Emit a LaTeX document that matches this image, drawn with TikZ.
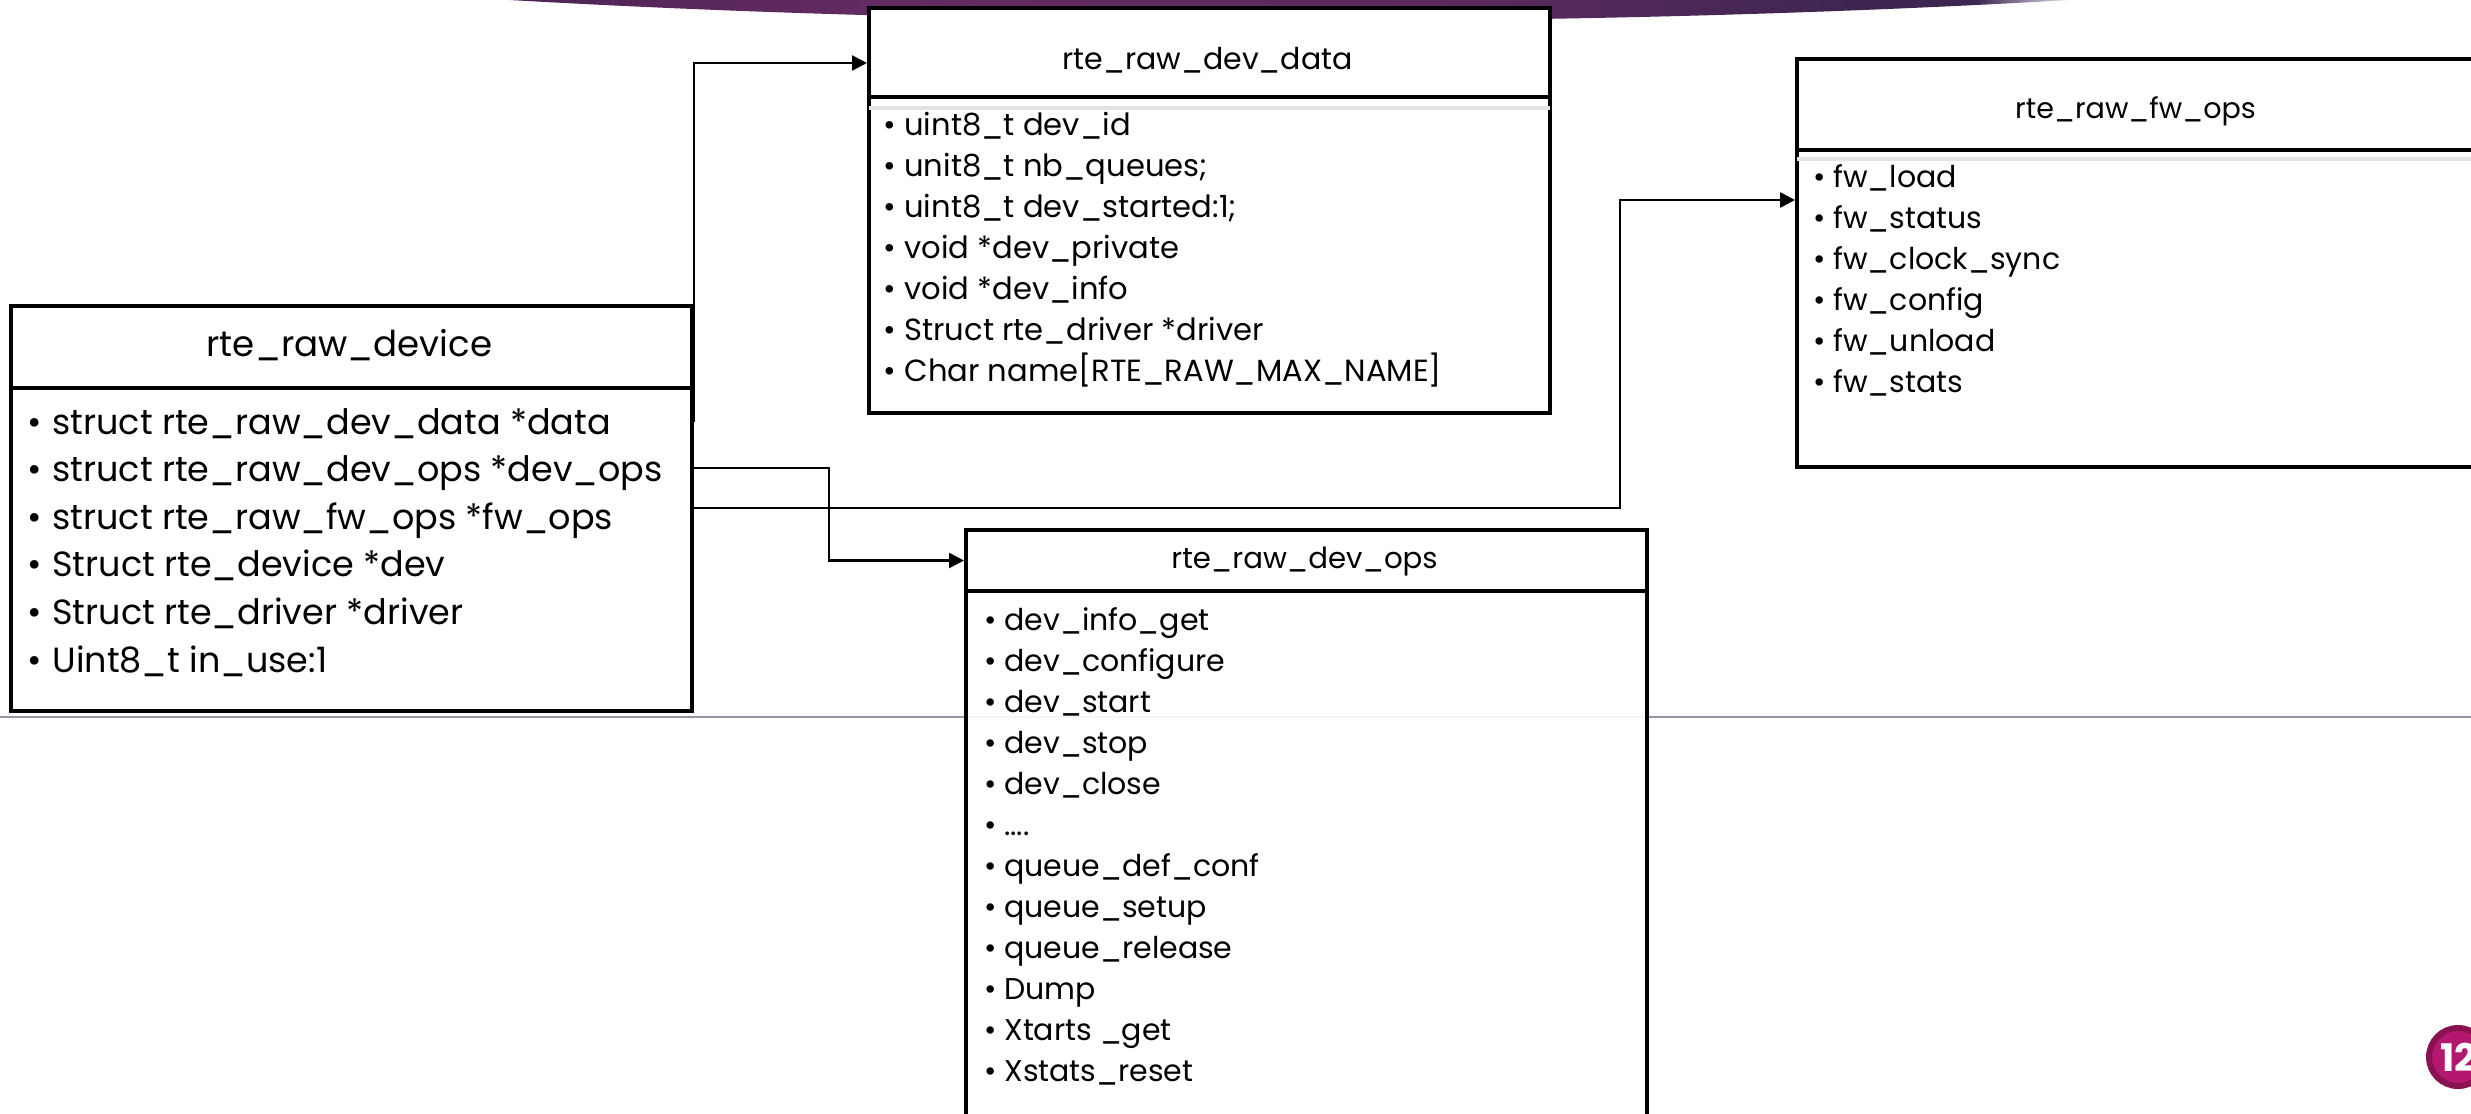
\documentclass[tikz,border=0pt]{standalone}
\usepackage{fontspec}
\setmainfont{Poppins}
\usetikzlibrary{arrows.meta}

\definecolor{bnA}{HTML}{4E2456}
\definecolor{bnB}{HTML}{642B63}
\definecolor{bnC}{HTML}{5A2A5E}
\definecolor{bnD}{HTML}{3D2551}
\definecolor{bnE}{HTML}{E4E0EA}
\definecolor{stripgrey}{HTML}{E3E3E3}
\definecolor{rulegrey}{HTML}{9C94A3}
\definecolor{pgnum}{HTML}{B3186E}
\definecolor{pgnumdark}{HTML}{8A1252}

% title band across the top edge
\pgfdeclarehorizontalshading{bannershade}{100bp}{%
  color(0bp)=(bnA); color(25bp)=(bnA); color(37bp)=(bnB); color(56bp)=(bnC);
  color(69bp)=(bnD); color(72bp)=(bnD); color(75bp)=(bnE); color(100bp)=(bnE)}

% bullet followed by the entry text
\newcommand{\itm}[2]{\makebox[#1][l]{\textbullet}#2}
\newcommand{\fourdots}{....}

\begin{document}
\begin{tikzpicture}[x=0.5pt,y=-0.5pt,
  boxpart/.style={draw=black, line width=2pt, fill=white, inner sep=0pt,
    minimum width=340.5pt, anchor=north west},
  bigttl/.style={font=\fontsize{17.8}{21}\selectfont, inner sep=0pt, anchor=base},
  ttl/.style={font=\fontsize{15}{18}\selectfont, inner sep=0pt, anchor=base},
  bigitem/.style={font=\fontsize{17.5}{21}\selectfont, inner sep=0pt, anchor=base west},
  item/.style={font=\fontsize{15}{18}\selectfont, inner sep=0pt, anchor=base west},
  conn/.style={line width=1.3pt, -{Triangle[length=7.5pt,width=7.5pt]}}]

\useasboundingbox (0,0) rectangle (2471,1113);
\clip (0,0) rectangle (2471,1113);

% background band and rule
\begin{scope}
  \clip (1290,-179) ellipse [x radius=1748, y radius=200];
  \shade[shading=bannershade] (510,-5) rectangle (2070,30);
\end{scope}
\draw[rulegrey, line width=0.8pt] (0,717) -- (2471,717);

% rte_raw_dev_data
\node[boxpart, minimum height=44.5pt] (ddhead) at (867,6) {};
\node[boxpart, minimum height=158pt] (ddbody) at (867,95) {};
\fill[stripgrey] ([shift={(2,11)}]ddbody.north west) rectangle ([shift={(-2,15)}]ddbody.north east);
\node[ttl] (ddtitle) at (1207.5,69) {rte\_raw\_dev\_data};
\foreach \txt [count=\i from 0] in {{uint8\_t dev\_id},{unit8\_t nb\_queues;},{uint8\_t dev\_started:1;},
  {void *dev\_private},{void *dev\_info},{Struct rte\_driver *driver},{Char name[RTE\_RAW\_MAX\_NAME]}}
  \node[item, font=\fontsize{15.3}{18}\selectfont] (dd\i) at (883,135+41*\i) {\itm{10.5pt}{\txt}};

% rte_raw_fw_ops
\node[boxpart, minimum height=45.5pt] (fwhead) at (1795,57) {};
\node[boxpart, minimum height=158.5pt] (fwbody) at (1795,148) {};
\fill[stripgrey] ([shift={(2,9)}]fwbody.north west) rectangle ([shift={(-2,13)}]fwbody.north east);
\node[ttl, font=\fontsize{14.3}{17}\selectfont] (fwtitle) at (2135.5,119) {rte\_raw\_fw\_ops};
\foreach \txt [count=\i from 0] in {{fw\_load},{fw\_status},{fw\_clock\_sync},{fw\_config},{fw\_unload},{fw\_stats}}
  \node[item] (fw\i) at (1813,187+41*\i) {\itm{10pt}{\txt}};

% rte_raw_dev_ops
\node[boxpart, minimum height=30.5pt] (opshead) at (964,528) {};
\node[boxpart, minimum height=300pt, fill opacity=0.9] (opsbody) at (964,589) {};
\node[ttl, font=\fontsize{14.6}{17}\selectfont] (opstitle) at (1304.5,568) {rte\_raw\_dev\_ops};
\foreach \txt [count=\i from 0] in {{dev\_info\_get},{dev\_configure},{dev\_start},{dev\_stop},{dev\_close},{\fourdots},
  {queue\_def\_conf},{queue\_setup},{queue\_release},{Dump},{Xtarts \_get},{Xstats\_reset}}
  \node[item] (op\i) at (984,630+41*\i) {\itm{10pt}{\txt}};

% rte_raw_device
\node[boxpart, minimum height=41pt] (devhead) at (9,304) {};
\node[boxpart, minimum height=161.5pt] (devbody) at (9,386) {};
\node[bigttl] (devtitle) at (349.5,356) {rte\_raw\_device};
\foreach \txt [count=\i from 0] in {{struct rte\_raw\_dev\_data *data},{struct rte\_raw\_dev\_ops *dev\_ops},
  {struct rte\_raw\_fw\_ops *fw\_ops},{Struct rte\_device *dev},{Struct rte\_driver *driver},{Uint8\_t in\_use:1}}
  \node[bigitem] (dv\i) at (27,434+47.6*\i) {\itm{12.5pt}{\txt}};

% pointer links
\coordinate (ya) at (0,63);
\coordinate (yb) at (0,200);
\coordinate (r1) at (0,422);
\coordinate (r2) at (0,468);
\coordinate (r3) at (0,508);
\coordinate (m1) at (829,0);
\coordinate (m2) at (1620,0);
\draw[conn] (devbody.east |- r1) |- (ddhead.west |- ya);
\draw[conn] (devbody.east |- r2) -| (m1 |- opshead.west) -- (opshead.west);
\draw[conn] (devbody.east |- r3) -| (m2 |- yb) -- (fwbody.west |- yb);

% slide number
\node[circle, fill=pgnum, draw=pgnumdark, line width=3pt, minimum size=29pt, inner sep=0pt,
  text=white, font=\fontsize{19}{22}\selectfont\bfseries] (pgno) at (2458,1057) {12};
\end{tikzpicture}
\end{document}
